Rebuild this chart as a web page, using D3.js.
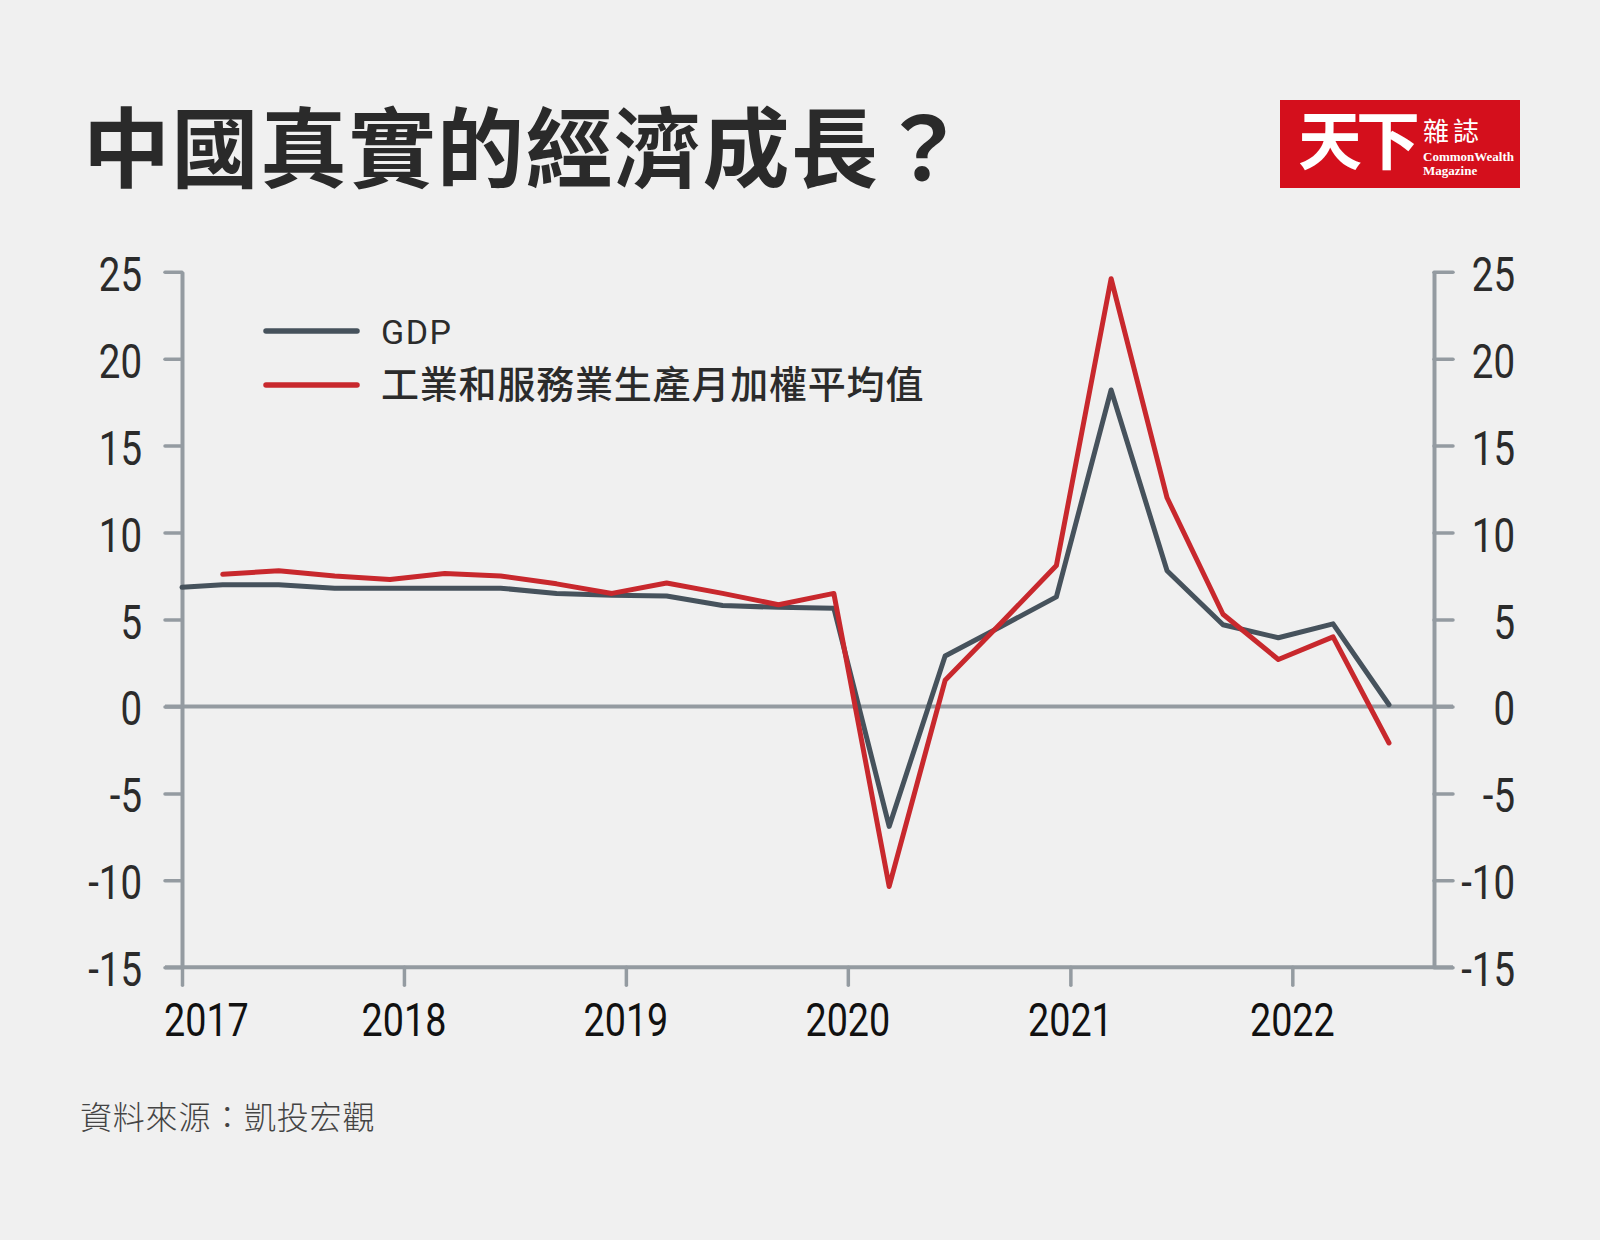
<!DOCTYPE html>
<html>
<head>
<meta charset="utf-8">
<script src="https://cdn.jsdelivr.net/npm/d3@7"></script>
<style>
  body { margin: 0; background: #f0f0f0; }
</style>
</head>
<body>
<div id="chart"></div>
<script>
// data
const gdpDates = ["2017-01-01", "2017-03-09", "2017-06-09", "2017-09-09", "2017-12-09",
  "2018-03-09", "2018-06-09", "2018-09-09", "2018-12-09", "2019-03-09", "2019-06-09",
  "2019-09-09", "2019-12-09", "2020-03-09", "2020-06-09", "2020-09-09", "2020-12-09",
  "2021-03-09", "2021-06-09", "2021-09-09", "2021-12-09", "2022-03-09", "2022-06-09"];
const gdpValues = [6.85, 7.0, 7.0, 6.8, 6.8, 6.8, 6.8, 6.5, 6.4, 6.35, 5.8, 5.7, 5.65,
  -6.9, 2.9, 4.6, 6.3, 18.2, 7.8, 4.7, 3.95, 4.75, 0.1];

const ipsDates = ["2017-03-09", "2017-06-09", "2017-09-09", "2017-12-09",
  "2018-03-09", "2018-06-09", "2018-09-09", "2018-12-09", "2019-03-09", "2019-06-09",
  "2019-09-09", "2019-12-09", "2020-03-09", "2020-06-09", "2020-09-09", "2020-12-09",
  "2021-03-09", "2021-06-09", "2021-09-09", "2021-12-09", "2022-03-09", "2022-06-09"];
const ipsValues = [7.6, 7.8, 7.5, 7.3, 7.65, 7.5, 7.05, 6.5, 7.1, 6.5, 5.85, 6.5,
  -10.35, 1.5, 4.8, 8.1, 24.6, 12.0, 5.3, 2.7, 4.0, -2.1];

const yTicks = [25, 20, 15, 10, 5, 0, -5, -10, -15];
const yearTicks = [2017, 2018, 2019, 2020, 2021, 2022];
const seriesNames = ["GDP", "工業和服務業生產月加權平均值"];
const seriesColors = ["#46525c", "#c8282d"];

const title = "中國真實的經濟成長？";
const source = "資料來源：凱投宏觀";

const W = 1600, H = 1240;
const axisColor = "#949ba1";

let svg = d3.select("#chart")
    .append("svg")
    .attr("width", W)
    .attr("height", H);

svg.append("rect")
    .attr("width", W)
    .attr("height", H)
    .attr("fill", "#f0f0f0");

const parse = d3.timeParse("%Y-%m-%d");

let x = d3.scaleTime()
    .domain([parse("2017-01-01"), parse("2022-08-22")])
    .range([182, 1434]);

let y = d3.scaleLinear()
    .domain([-15, 25])
    .range([967.3, 271.7]);

// title
svg.append("text")
    .attr("x", 83)
    .attr("y", 181)
    .attr("font-family", "'Noto Sans CJK TC', sans-serif")
    .attr("font-weight", 700)
    .attr("font-size", 87)
    .attr("letter-spacing", 1.5)
    .attr("fill", "#2a2a2a")
    .text(title);

// logo
let logo = svg.append("g");
logo.append("rect")
    .attr("x", 1280).attr("y", 100)
    .attr("width", 240).attr("height", 88)
    .attr("fill", "#d40f1c");
logo.append("text")
    .attr("x", 1298).attr("y", 164)
    .attr("font-family", "'Noto Sans CJK TC', sans-serif")
    .attr("font-weight", 700)
    .attr("font-size", 64)
    .attr("letter-spacing", -6)
    .attr("fill", "#fff")
    .text("天下");
logo.append("text")
    .attr("x", 1423).attr("y", 141)
    .attr("font-family", "'Noto Sans CJK TC', sans-serif")
    .attr("font-size", 26)
    .attr("letter-spacing", 4)
    .attr("fill", "#fff")
    .text("雜誌");
logo.append("text")
    .attr("x", 1423).attr("y", 161)
    .attr("font-family", "'Liberation Serif', serif")
    .attr("font-size", 13)
    .attr("font-weight", 700)
    .attr("fill", "#fff")
    .text("CommonWealth");
logo.append("text")
    .attr("x", 1423).attr("y", 175)
    .attr("font-family", "'Liberation Serif', serif")
    .attr("font-size", 13)
    .attr("font-weight", 700)
    .attr("fill", "#fff")
    .text("Magazine");

// horizontal lines at 0 and -15
svg.selectAll(".hline")
    .data([0, -15])
    .enter().append("line")
    .attr("x1", 165).attr("x2", 1453)
    .attr("y1", d => y(d)).attr("y2", d => y(d))
    .attr("stroke", axisColor)
    .attr("stroke-width", 4);

// left and right axes
let leftAxis = svg.append("g")
    .attr("transform", `translate(${x.range()[0]},0)`)
    .call(d3.axisLeft(y).tickValues(yTicks).tickSize(17).tickSizeOuter(0).tickFormat(""));

let rightAxis = svg.append("g")
    .attr("transform", `translate(${x.range()[1]},0)`)
    .call(d3.axisRight(y).tickValues(yTicks).tickSize(19).tickSizeOuter(0).tickFormat(""));

// bottom axis
let bottomAxis = svg.append("g")
    .attr("transform", `translate(0,${y(-15)})`)
    .call(d3.axisBottom(x)
        .tickValues(yearTicks.map(d => new Date(d, 0, 1)))
        .tickSize(18).tickSizeOuter(0).tickFormat(""));
bottomAxis.select(".domain").remove();

[leftAxis, rightAxis, bottomAxis].forEach(a => {
  a.select(".domain").attr("stroke", axisColor).attr("stroke-width", 4);
  a.selectAll(".tick line")
      .attr("stroke", axisColor)
      .attr("stroke-width", 3.5)
      .attr("stroke-linecap", "round");
});

// tick labels (condensed look)
const numFont = "Roboto, 'Noto Sans', sans-serif";
[142, 1515].forEach(lx => {
  svg.append("g").selectAll("g")
      .data(yTicks)
      .enter().append("g")
      .attr("transform", d => `translate(${lx},${y(d) + 19})`)
      .append("text")
      .attr("transform", "scale(0.8,1)")
      .attr("text-anchor", "end")
      .attr("font-family", numFont)
      .attr("font-size", 48)
      .attr("fill", "#2b2b2b")
      .text(d => d);
});

svg.append("g").selectAll("g")
    .data(yearTicks)
    .enter().append("g")
    .attr("transform", (d, i) => `translate(${x(new Date(d, 0, 1)) - (i === 0 ? 18 : 0)},1036)`)
    .append("text")
    .attr("transform", "scale(0.82,1)")
    .attr("text-anchor", (d, i) => i === 0 ? "start" : "middle")
    .attr("font-family", numFont)
    .attr("font-size", 46)
    .attr("fill", "#111")
    .text(d => d);

// series lines
let gdpData = gdpDates.map((d, i) => ({ date: parse(d), value: gdpValues[i] }));
let ipsData = ipsDates.map((d, i) => ({ date: parse(d), value: ipsValues[i] }));

let line = d3.line()
    .x(d => x(d.date))
    .y(d => y(d.value));

[gdpData, ipsData].forEach((data, i) => {
  svg.append("path")
      .datum(data)
      .attr("d", line)
      .attr("fill", "none")
      .attr("stroke", seriesColors[i])
      .attr("stroke-width", 5)
      .attr("stroke-linejoin", "round")
      .attr("stroke-linecap", "round");
});

// legend
let legend = svg.append("g");
seriesNames.forEach((name, i) => {
  let ly = 331 + i * 54;
  legend.append("line")
      .attr("x1", 266).attr("x2", 357)
      .attr("y1", ly).attr("y2", ly)
      .attr("stroke", seriesColors[i])
      .attr("stroke-width", 5.5)
      .attr("stroke-linecap", "round");
  legend.append("text")
      .attr("x", 381)
      .attr("y", ly + 13)
      .attr("font-family", i === 0 ? numFont : "'Noto Sans CJK TC', sans-serif")
      .attr("font-size", i === 0 ? 34 : 38)
      .attr("font-weight", i === 0 ? 400 : 500)
      .attr("letter-spacing", i === 0 ? 1.5 : 0.8)
      .attr("fill", "#2b2b2b")
      .text(name);
});

// source
svg.append("text")
    .attr("x", 80)
    .attr("y", 1129)
    .attr("font-family", "'Noto Sans CJK TC', sans-serif")
    .attr("font-weight", 300)
    .attr("font-size", 32)
    .attr("letter-spacing", 0.8)
    .attr("fill", "#444")
    .text(source);
</script>
</body>
</html>
